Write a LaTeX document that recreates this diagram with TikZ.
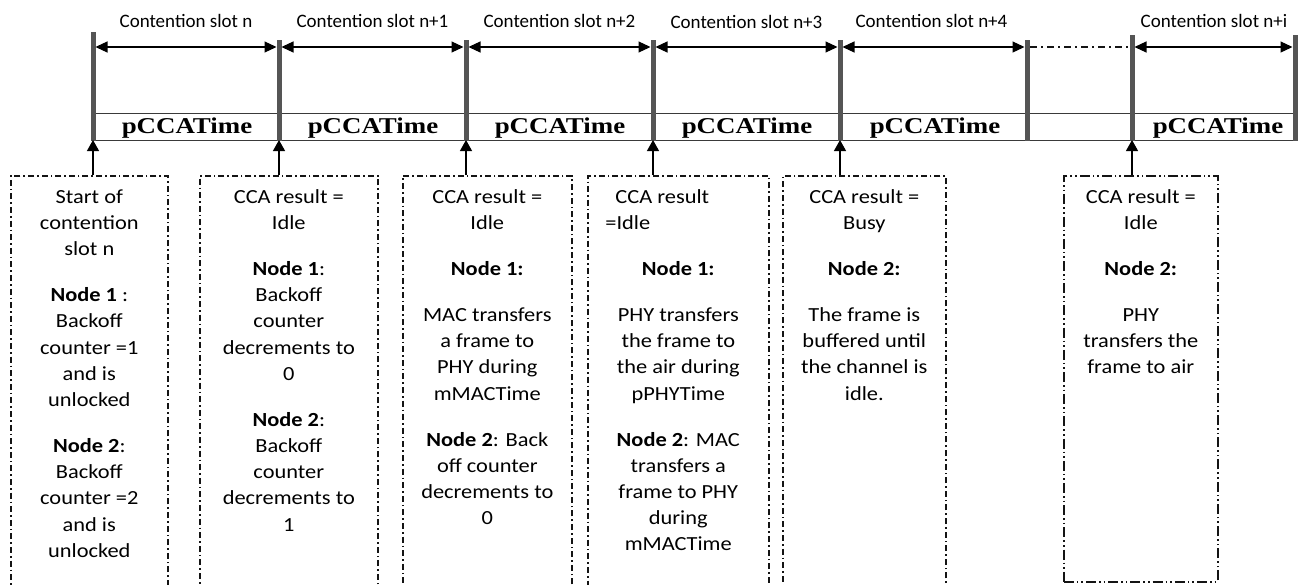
\documentclass[tikz,border=0pt]{standalone}
\usepackage{fontspec}
\setmainfont{Carlito}
\newfontfamily\boxfont[FakeStretch=1.12]{Carlito}
\newfontfamily\labfont{Carlito}
\newfontfamily\timefont[FakeStretch=1.19]{Liberation Serif}
\usetikzlibrary{arrows.meta}
\definecolor{bargray}{HTML}{555555}
\definecolor{boxline}{HTML}{141414}
\definecolor{stripline}{HTML}{3A3A3A}
\tikzset{
  slotbar/.style={draw=bargray, line width=5pt},
  spanarrow/.style={{Triangle[length=12pt,width=11pt]}-{Triangle[length=12pt,width=11pt]}, line width=1.2pt, black},
  uparrow/.style={-{Triangle[length=11pt,width=12pt]}, line width=1.2pt, black},
  gapline/.style={draw=boxline, line width=1.1pt, dash pattern=on 7pt off 4pt on 2pt off 4pt},
  stripedge/.style={draw=stripline, line width=1pt},
  boxa/.style={draw=boxline, line width=1.6pt, dash pattern=on 6pt off 3pt on 1.6pt off 3pt, anchor=north west, inner sep=0pt, minimum height=430pt},
  boxb/.style={draw=boxline, line width=1.6pt, dash pattern=on 10pt off 3pt on 1.6pt off 3pt on 1.6pt off 3pt, anchor=north west, inner sep=0pt},
  boxtext/.style={anchor=north, inner sep=0pt, align=center, font=\boxfont\fontsize{20}{26.2}\selectfont},
  slotlabel/.style={anchor=base, inner sep=0pt, font=\labfont\fontsize{19}{23}\selectfont},
  timelabel/.style={anchor=base, inner sep=0pt, font=\timefont\bfseries\fontsize{22.6}{26}\selectfont},
}
\begin{document}
\begin{tikzpicture}[x=1pt,y=-1pt]
\clip (0,0) rectangle (1303,584);
\fill[white] (0,0) rectangle (1303,584);
% bar coordinates
\coordinate (p1) at (93,32);   \coordinate (q1) at (93,141);
\coordinate (p2) at (279,40);  \coordinate (q2) at (279,141);
\coordinate (p3) at (466,40);  \coordinate (q3) at (466,141);
\coordinate (p4) at (653,40);  \coordinate (q4) at (653,141);
\coordinate (p5) at (840,40);  \coordinate (q5) at (840,141);
\coordinate (p6) at (1027,40); \coordinate (q6) at (1027,141);
\coordinate (p7) at (1132,35); \coordinate (q7) at (1132,141);
\coordinate (p8) at (1295,35); \coordinate (q8) at (1295,141);
\coordinate (arrY) at (0,47);
\coordinate (stripTop) at (0,113);
\coordinate (stripBot) at (0,140);
% strip
\draw[stripedge] (p1 |- stripTop) -- (p8 |- stripTop);
\draw[stripedge] (p1 |- stripBot) -- (p8 |- stripBot);
% bars
\foreach \i in {1,...,8} { \draw[slotbar] (p\i) -- (q\i); }
% span arrows
\foreach \a/\b in {1/2,2/3,3/4,4/5,5/6,7/8} {
  \draw[spanarrow] ([xshift=2.5pt]p\a |- arrY) -- ([xshift=-2.5pt]p\b |- arrY);
}
\draw[gapline] ([xshift=3pt]p6 |- arrY) -- ([xshift=-3pt]p7 |- arrY);
% slot labels
\node[slotlabel] (l1) at (186,27) {Contention slot n};
\node[slotlabel] (l2) at (372.5,27) {Contention slot n+1};
\node[slotlabel] (l3) at (559.5,27) {Contention slot n+2};
\node[slotlabel] (l4) at (746.5,28) {Contention slot n+3};
\node[slotlabel] (l5) at (931.5,27) {Contention slot n+4};
\node[slotlabel] (l6) at (1214,27) {Contention slot n+i};
% time labels
\node[timelabel] (c1) at (187,133) {pCCATime};
\node[timelabel] (c2) at (373,133) {pCCATime};
\node[timelabel] (c3) at (560,133) {pCCATime};
\node[timelabel] (c4) at (747,133) {pCCATime};
\node[timelabel] (c5) at (935,133) {pCCATime};
\node[timelabel] (c6) at (1218,133) {pCCATime};
% boxes
\node[boxa, minimum width=157pt] (b1) at (10,175) {};
\node[boxa, minimum width=178pt] (b2) at (199,175) {};
\node[boxa, minimum width=169pt] (b3) at (402,175) {};
\node[boxa, minimum width=181pt] (b4) at (587,175) {};
\node[boxa, minimum width=163pt] (b5) at (782,175) {};
\node[boxb, minimum width=154pt, minimum height=406pt] (b6) at (1063,175) {};
% up arrows
\draw[uparrow] (q1 |- b1.north) -- (q1 |- stripBot);
\draw[uparrow] (q2 |- b2.north) -- (q2 |- stripBot);
\draw[uparrow] (q3 |- b3.north) -- (q3 |- stripBot);
\draw[uparrow] (q4 |- b4.north) -- (q4 |- stripBot);
\draw[uparrow] (q5 |- b5.north) -- (q5 |- stripBot);
\draw[uparrow] (q7 |- b6.north) -- (q7 |- stripBot);
% texts
\coordinate (tl) at (0,184.66);
\node[boxtext] (t1) at (b1.north |- tl) {\strut Start of\\ contention\\ slot n\\[19.8pt]
  \textbf{Node 1} :\\ Backoff\\ counter =1\\ and is\\ unlocked\\[19.8pt]
  \textbf{Node 2}:\\ Backoff\\ counter =2\\ and is\\ unlocked};
\node[boxtext] (t2) at (b2.north |- tl) {\strut CCA result =\\ Idle\\[19.8pt]
  \textbf{Node 1}:\\ Backoff\\ counter\\ decrements to\\ 0\\[19.8pt]
  \textbf{Node 2}:\\ Backoff\\ counter\\ decrements to\\ 1};
\node[boxtext] (t3) at (b3.north |- tl) {\strut CCA result =\\ Idle\\[19.8pt]
  \textbf{Node 1:}\\[19.8pt]
  MAC transfers\\ a frame to\\ PHY during\\ mMACTime\\[19.8pt]
  \textbf{Node 2}: Back\\ off counter\\ decrements to\\ 0};
\node[boxtext] (t4) at (b4.north |- tl) {\strut CCA result\kern32pt\\ =Idle\kern101pt\\[19.8pt]
  \textbf{Node 1:}\\[19.8pt]
  PHY transfers\\ the frame to\\ the air during\\ pPHYTime\\[19.8pt]
  \textbf{Node 2}: MAC\\ transfers a\\ frame to PHY\\ during\\ mMACTime};
\node[boxtext] (t5) at (b5.north |- tl) {\strut CCA result =\\ Busy\\[19.8pt]
  \textbf{Node 2:}\\[19.8pt]
  The frame is\\ buffered until\\ the channel is\\ idle.};
\node[boxtext] (t6) at (b6.north |- tl) {\strut CCA result =\\ Idle\\[19.8pt]
  \textbf{Node 2:}\\[19.8pt]
  PHY\\ transfers the\\ frame to air};
\end{tikzpicture}
\end{document}
